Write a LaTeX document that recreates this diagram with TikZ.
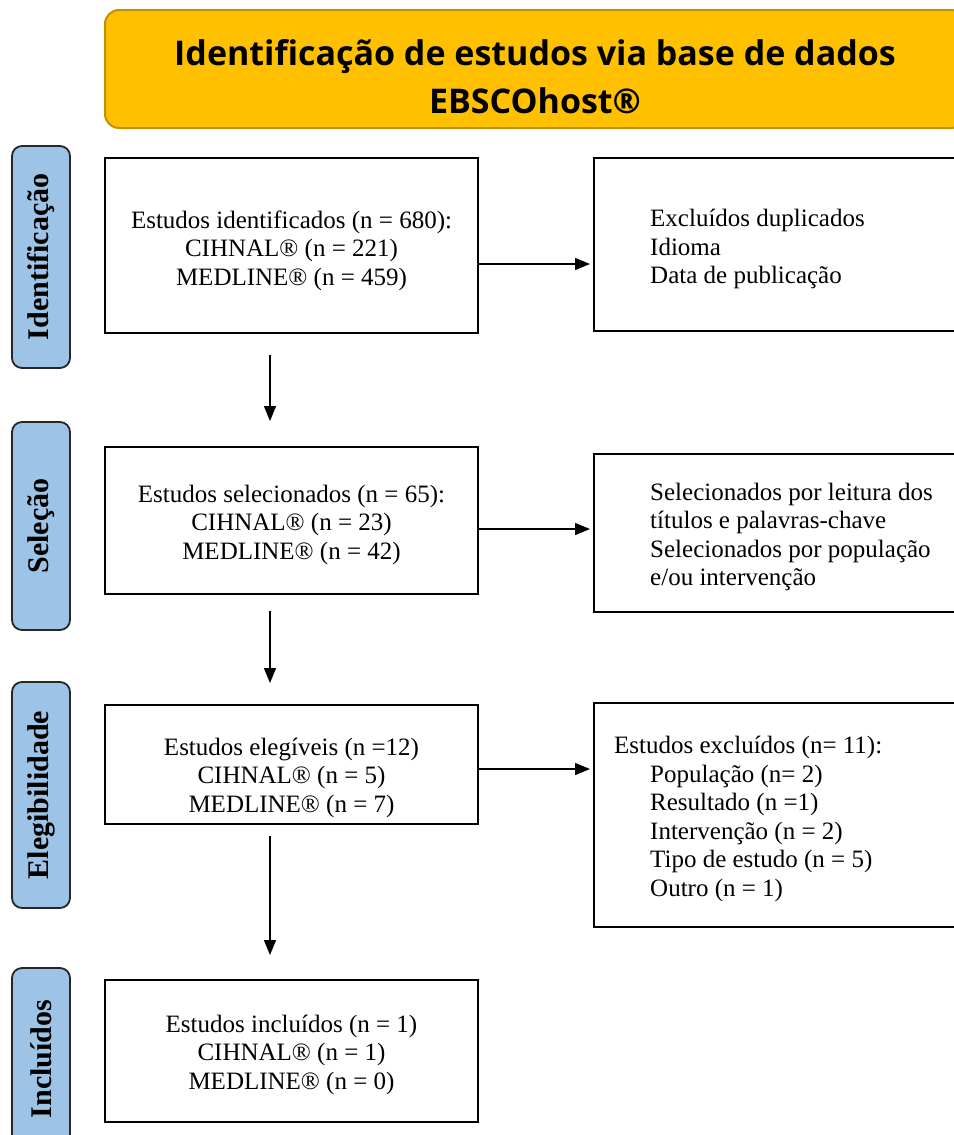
\documentclass[tikz,border=0pt]{standalone}
\usepackage{fontspec}
\setmainfont{Liberation Serif}
\newfontfamily\headfont{Open Sans}
\usetikzlibrary{arrows.meta}
\definecolor{headgold}{HTML}{FFC000}
\definecolor{headline}{HTML}{C09200}
\definecolor{phaseblue}{HTML}{9DC3E6}

\begin{document}
\begin{tikzpicture}[x=1pt,y=-1pt,
  box/.style={draw=black,line width=2pt,inner sep=0pt},
  lbox/.style={box,minimum width=373pt},
  rbox/.style={box,minimum width=371pt},
  ltext/.style={align=center,inner sep=0pt,font=\fontsize{25}{28.5}\selectfont},
  rtext/.style={anchor=west,align=left,inner sep=0pt,font=\fontsize{25}{28.5}\selectfont},
  phase/.style={draw=black!85,line width=1.8pt,fill=phaseblue,rounded corners=10pt,
    rotate=90,minimum height=58pt,inner sep=0pt,font=\fontsize{30}{32}\selectfont\bfseries},
  arr/.style={line width=1.3pt,-{Triangle[length=15pt,width=12pt]}}]
\useasboundingbox (0,0) rectangle (953,1135);

% header
\node[draw=headline,line width=2pt,fill=headgold,rounded corners=14pt,
  minimum width=860pt,minimum height=118pt] (head) at (535,69) {};
\node[align=center,inner sep=0pt,font=\headfont\fontsize{34}{48}\selectfont\bfseries]
  (title) at (535,77) {Identificação de estudos via base de dados\\EBSCOhost®};

% phases on the left
\node[phase,minimum width=222pt] (pid) at (41,257) {Identificação};
\node[phase,minimum width=208pt] (psel) at (41,526) {Seleção};
\node[phase,minimum width=226pt] (pele) at (41,795) {Elegibilidade};
\node[phase,minimum width=182pt] (pinc) at (41,1059) {Incluídos};

% main column
\node[lbox,minimum height=175pt] (b1) at (291.5,245.5) {};
\node[ltext] (s1) at (291.5,250.5)
  {Estudos identificados (n = 680):\\CIHNAL® (n = 221)\\MEDLINE® (n = 459)};
\node[lbox,minimum height=147pt] (b2) at (291.5,520.5) {};
\node[ltext] (s2) at (291.5,524.5)
  {Estudos selecionados (n = 65):\\CIHNAL® (n = 23)\\MEDLINE® (n = 42)};
\node[lbox,minimum height=119pt] (b3) at (291.5,764.5) {};
\node[ltext] (s3) at (291.5,777.5)
  {Estudos elegíveis (n =12)\\CIHNAL® (n = 5)\\MEDLINE® (n = 7)};
\node[lbox,minimum height=142pt] (b4) at (291.5,1051) {};
\node[ltext] (s4) at (291.5,1054.5)
  {Estudos incluídos (n = 1)\\CIHNAL® (n = 1)\\MEDLINE® (n = 0)};

% right column
\node[rbox,minimum height=173pt] (r1) at (779.5,244.5) {};
\node[rtext] (t1) at (650,249)
  {Excluídos duplicados\\Idioma\\Data de publicação};
\node[rbox,minimum height=158pt] (r2) at (779.5,533) {};
\node[rtext] (t2) at (650,537)
  {Selecionados por leitura dos\\títulos e palavras-chave\\Selecionados por população\\e/ou intervenção};
\node[rbox,minimum height=224pt] (r3) at (779.5,815) {};
\node[rtext] (t3) at (614,819)
  {Estudos excluídos (n= 11):\\
  \hspace*{36pt}População (n= 2)\\
  \hspace*{36pt}Resultado (n =1)\\
  \hspace*{36pt}Intervenção (n = 2)\\
  \hspace*{36pt}Tipo de estudo (n = 5)\\
  \hspace*{36pt}Outro (n = 1)};

% arrows down
\draw[arr,shorten <=21pt,shorten >=25pt] ([xshift=-21.5]b1.south) -- ([xshift=-21.5]b2.north);
\draw[arr,shorten <=16pt,shorten >=21pt] ([xshift=-21.5]b2.south) -- ([xshift=-21.5]b3.north);
\draw[arr,shorten <=11pt,shorten >=24pt] ([xshift=-21.5]b3.south) -- ([xshift=-21.5]b4.north);

% arrows right
\draw[arr,shorten >=3pt] ([yshift=-18.5]b1.east) -- ([yshift=-18.5]b1.east -| r1.west);
\draw[arr,shorten >=3pt] ([yshift=-8.5]b2.east) -- ([yshift=-8.5]b2.east -| r2.west);
\draw[arr,shorten >=3pt] ([yshift=-4.5]b3.east) -- ([yshift=-4.5]b3.east -| r3.west);
\end{tikzpicture}
\end{document}
